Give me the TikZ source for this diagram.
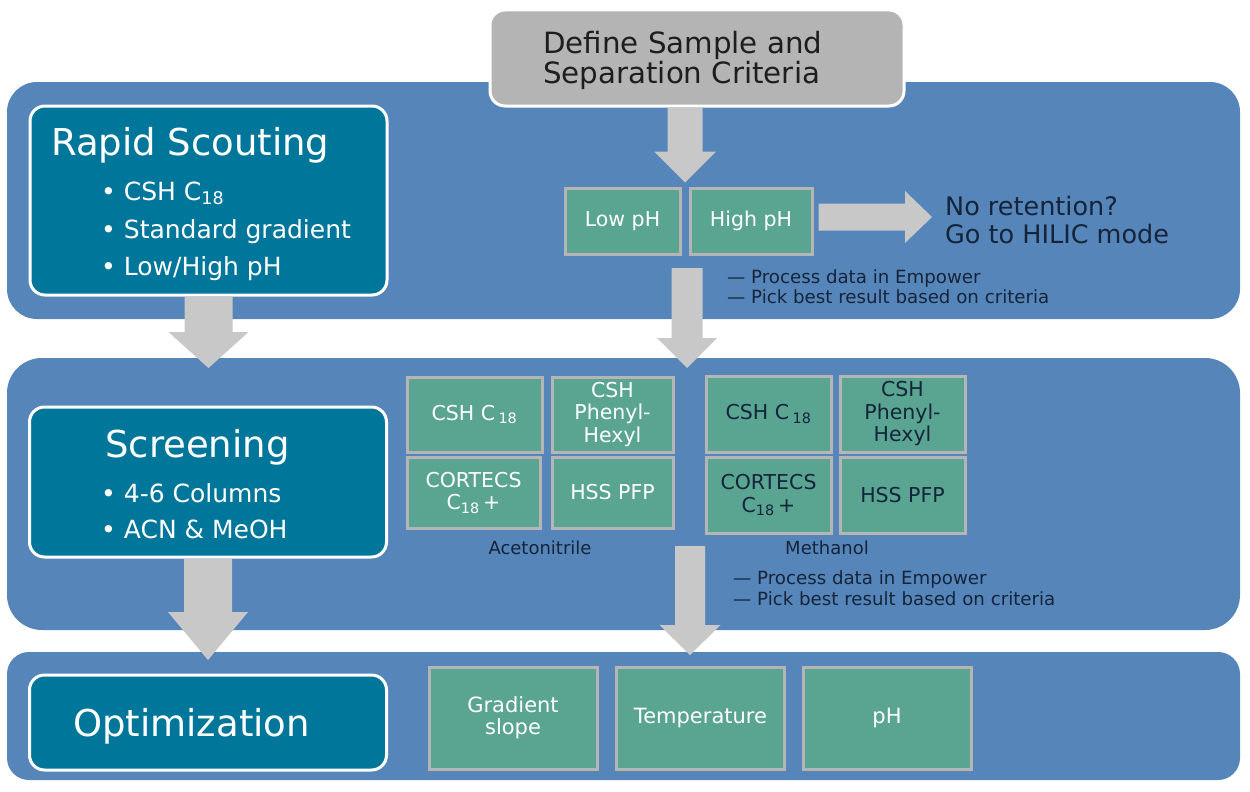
\documentclass[tikz,border=0pt]{standalone}
\usepackage{fontspec}
\setmainfont{DejaVu Sans}
\usetikzlibrary{calc,positioning}
\definecolor{bandblue}{HTML}{5686B9}
\definecolor{stageteal}{HTML}{00779A}
\definecolor{colgreen}{HTML}{5AA592}
\definecolor{colrim}{HTML}{B5B5B5}
\definecolor{flowgray}{HTML}{C8C8C8}
\definecolor{samplegray}{HTML}{B4B4B4}
\definecolor{inknavy}{HTML}{15243A}
\definecolor{inkgray}{HTML}{1E1E1E}

\tikzset{
  stagebox/.style={draw=white, line width=3pt, fill=stageteal, rounded corners=15pt, minimum width=357pt},
  colbox/.style={draw=colrim, line width=3pt, fill=colgreen, align=center, font=\fontsize{20.5}{22.5}\selectfont},
  stagetitle/.style={anchor=base west, text=white, inner sep=0pt, font=\fontsize{37}{44}\selectfont},
  stagebullet/.style={anchor=base west, text=white, inner sep=0pt, font=\fontsize{25}{30}\selectfont},
  notetext/.style={anchor=base west, text=inknavy, inner sep=0pt, font=\fontsize{18.2}{20}\selectfont},
  solvent/.style={anchor=base, text=inknavy, inner sep=0pt, font=\fontsize{18}{20}\selectfont},
}

% block arrows: from, to, shaft half width, head half width, head length
\newcommand{\flowdown}[5]{%
  \fill[flowgray] let \p1=(#1), \p2=(#2) in
    (\x1-#3pt,\y1) -- (\x1+#3pt,\y1) -- (\x1+#3pt,\y2+#5pt) -- (\x1+#4pt,\y2+#5pt)
    -- (\x1,\y2) -- (\x1-#4pt,\y2+#5pt) -- (\x1-#3pt,\y2+#5pt) -- cycle;}
\newcommand{\flowright}[5]{%
  \fill[flowgray] let \p1=(#1), \p2=(#2) in
    (\x1,\y1+#3pt) -- (\x2-#5pt,\y1+#3pt) -- (\x2-#5pt,\y1+#4pt) -- (\x2,\y1)
    -- (\x2-#5pt,\y1-#4pt) -- (\x2-#5pt,\y1-#3pt) -- (\x1,\y1-#3pt) -- cycle;}

\begin{document}
\begin{tikzpicture}[x=1pt,y=-1pt]
    \useasboundingbox (0,0) rectangle (1250,792);

    % bands
    \fill[bandblue, rounded corners=30pt] (7,82) rectangle (1240,319);
    \fill[bandblue, rounded corners=35pt] (7,358) rectangle (1240,630);
    \fill[bandblue, rounded corners=22pt] (7,652) rectangle (1240,780);

    % stage boxes
    \node[stagebox, minimum height=189pt] (scout) at (208.5,200.5) {};
    \node[stagebox, minimum height=150pt] (screen) at (208,482) {};
    \node[stagebox, minimum height=95pt] (optim) at (208,722.5) {};

    % column boxes
    \node[colbox, text=white, minimum width=115pt, minimum height=66pt] (lowph) at (622.5,221) {Low pH};
    \node[colbox, text=white, minimum width=122pt, minimum height=66pt] (highph) at (751,221) {High pH};

    \node[colbox, text=white, minimum width=135pt, minimum height=75pt] (acnA) at (474.5,414.5) {CSH C\,\textsubscript{18}};
    \node[colbox, text=white, minimum width=121pt, minimum height=75pt] (acnB) at (612.5,414.5) {CSH\\Phenyl-\\Hexyl};
    \node[colbox, text=white, minimum width=133pt, minimum height=71pt] (acnC) at (473.5,492.5) {CORTECS\\C\textsubscript{18}\,+};
    \node[colbox, text=white, minimum width=121pt, minimum height=71pt] (acnD) at (612.5,492.5) {HSS PFP};

    \node[colbox, text=inknavy, minimum width=125pt, minimum height=76pt] (meoA) at (768.5,414) {CSH C\,\textsubscript{18}};
    \node[colbox, text=inknavy, minimum width=125pt, minimum height=76pt] (meoB) at (902.5,414) {CSH\\Phenyl-\\Hexyl};
    \node[colbox, text=inknavy, minimum width=125pt, minimum height=76pt] (meoC) at (768.5,495) {CORTECS\\C\textsubscript{18}\,+};
    \node[colbox, text=inknavy, minimum width=125pt, minimum height=76pt] (meoD) at (902.5,495) {HSS PFP};

    \node[solvent] (acnlabel) at (540,554) {Acetonitrile};
    \node[solvent] (meolabel) at (827,554) {Methanol};

    \foreach \name/\x/\txt in {optA/513/{Gradient\\slope},optB/700.5/Temperature,optC/887/pH} {
        \node[colbox, text=white, minimum width=168pt, minimum height=102pt, font=\fontsize{21}{22}\selectfont] (\name) at (\x,718) {\txt};
    }

    % arrow ends
    \coordinate (phtop) at ($(lowph.north east)!.5!(highph.north west)+(0,-4)$);
    \coordinate (hilicfrom) at ($(highph.east)+(5,-4)$);
    \coordinate (hilictip) at (932,217);
    \coordinate (scouttip) at (208,368);
    \coordinate (screentip) at (208,660);
    \coordinate (phout) at (687,268);
    \coordinate (colin) at (687,368);
    \coordinate (colout) at (690,546);
    \coordinate (optin) at (690,655);

    \flowdown{scout.south}{scouttip}{24}{40}{36}
    \flowdown{screen.south}{screentip}{24}{40}{48}
    \flowdown{phout}{colin}{15.5}{30}{30}
    \flowdown{colout}{optin}{15}{30.5}{30}
    \flowright{hilicfrom}{hilictip}{13.5}{26}{27}

    % sample definition
    \node[draw=white, line width=3pt, fill=samplegray, rounded corners=15pt,
          minimum width=414pt, minimum height=96pt] (sample) at (697,58) {};
    \flowdown{phtop |- sample.south}{phtop}{17.5}{31}{31}
    \node[anchor=base west, text=inkgray, inner sep=0pt, font=\fontsize{29.3}{30}\selectfont] (sampleA) at (543,53) {Define Sample and};
    \node[anchor=base west, text=inkgray, inner sep=0pt, font=\fontsize{29.3}{30}\selectfont] (sampleB) at (543,83) {Separation Criteria};

    % stage texts
    \node[stagetitle] (scouttitle) at (51,155) {Rapid Scouting};
    \foreach \i/\y/\txt in {1/200/{CSH C\textsubscript{18}},2/238/{Standard gradient},3/275/{Low/High pH}} {
        \node[stagebullet] (scoutitem\i) at (101,\y) {• \txt};
    }
    \node[stagetitle] (screentitle) at (105,457) {Screening};
    \foreach \i/\y/\txt in {1/502/{4-6 Columns},2/538/{ACN \& MeOH}} {
        \node[stagebullet] (screenitem\i) at (101,\y) {• \txt};
    }
    \node[stagetitle] (optimtitle) at (73,736) {Optimization};

    % side notes
    \node[anchor=base west, text=inknavy, inner sep=0pt, font=\fontsize{25.5}{28}\selectfont] (noretA) at (945,215) {No retention?};
    \node[anchor=base west, text=inknavy, inner sep=0pt, font=\fontsize{25.5}{28}\selectfont] (noretB) at (945,243) {Go to HILIC mode};
    \node[notetext] (scoutnoteA) at (727,283) {— Process data in Empower};
    \node[notetext] (scoutnoteB) at (727,303) {— Pick best result based on criteria};
    \node[notetext] (screennoteA) at (733,584) {— Process data in Empower};
    \node[notetext] (screennoteB) at (733,605) {— Pick best result based on criteria};
\end{tikzpicture}
\end{document}
